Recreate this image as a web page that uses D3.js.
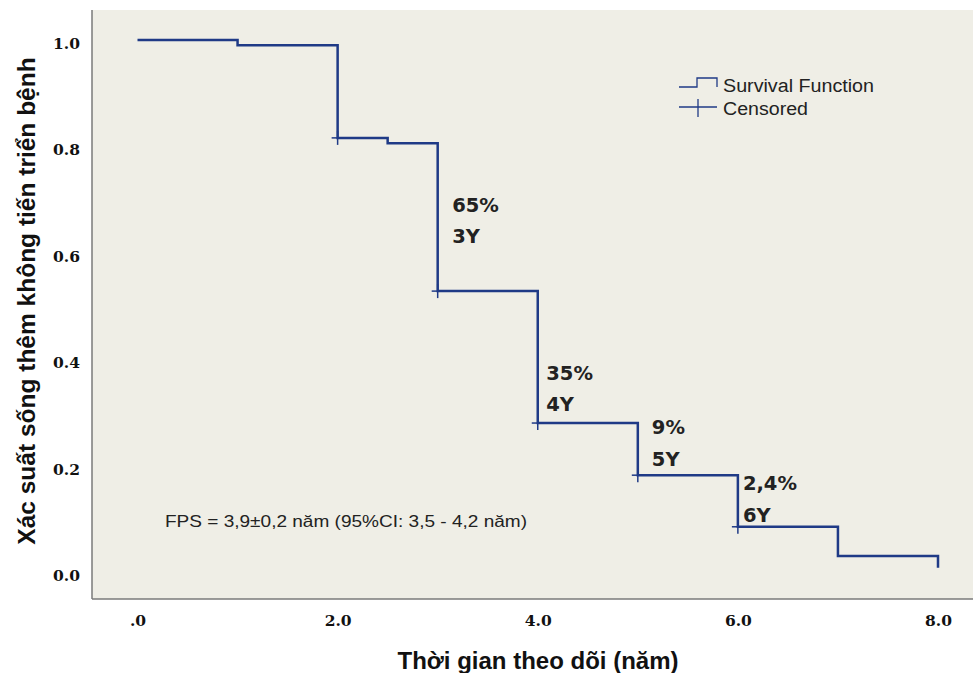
<!DOCTYPE html>
<html>
<head>
<meta charset="utf-8">
<script src="https://cdn.jsdelivr.net/npm/d3@7"></script>
<style>
  body { margin: 0; background: #fff; }
  svg { display: block; }
</style>
</head>
<body>
<div id="chart"></div>
<script>
// survival steps: value held from each time until the next one
var times = [0, 1.0, 2.0, 2.5, 3.0, 4.0, 5.0, 6.0, 7.0, 8.0]
var surv = [1.0, 0.99, 0.816, 0.806, 0.528, 0.28, 0.182, 0.085, 0.03, 0.008]
var censorTimes = [2.0, 3.0, 4.0, 5.0, 6.0]
var censorSurv = [0.816, 0.528, 0.28, 0.182, 0.085]
var notePct = ['65%', '35%', '9%', '2,4%']
var noteYear = ['3Y', '4Y', '5Y', '6Y']
var noteX = [3.145, 4.085, 5.14, 6.05]
var noteY = [0.677, 0.361, 0.259, 0.154]
var xTicks = [0, 2, 4, 6, 8]
var yTicks = [0, 0.2, 0.4, 0.6, 0.8, 1.0]

var width = 973, height = 673
var plot = { left: 92, top: 10, right: 973, bottom: 599 }
var blue = '#1f3a86'

var svg = d3.select('#chart').append('svg')
  .attr('width', width)
  .attr('height', height)

var x = d3.scaleLinear().domain([0, 8]).range([137.5, 938])
var y = d3.scaleLinear().domain([0, 1]).range([572, 40])

// plot background
svg.append('rect')
  .attr('x', plot.left).attr('y', plot.top)
  .attr('width', plot.right - plot.left)
  .attr('height', plot.bottom - plot.top)
  .attr('fill', '#efeee6')

svg.append('line')
  .attr('x1', plot.left).attr('x2', plot.left)
  .attr('y1', plot.top).attr('y2', plot.bottom)
  .attr('stroke', '#7a7a7a').attr('stroke-width', 1.5)
svg.append('line')
  .attr('x1', plot.left).attr('x2', plot.right)
  .attr('y1', plot.bottom).attr('y2', plot.bottom)
  .attr('stroke', '#7a7a7a').attr('stroke-width', 1.5)

// axes (labels only)
var xAxis = d3.axisBottom(x).tickValues(xTicks).tickSize(0)
  .tickFormat(function (d) { return d === 0 ? '.0' : d3.format('.1f')(d) })
var gx = svg.append('g').attr('transform', 'translate(0,' + 612 + ')').call(xAxis)
gx.select('.domain').remove()
gx.selectAll('text')
  .attr('font-family', 'DejaVu Serif').attr('font-weight', 'bold')
  .attr('font-size', 15.5).attr('fill', '#111')

var yAxis = d3.axisLeft(y).tickValues(yTicks).tickSize(0)
  .tickFormat(d3.format('.1f'))
var gy = svg.append('g').attr('transform', 'translate(' + 83 + ',0)').call(yAxis)
gy.select('.domain').remove()
gy.selectAll('text')
  .attr('dy', '0.55em')
  .attr('font-family', 'DejaVu Serif').attr('font-weight', 'bold')
  .attr('font-size', 15.5).attr('fill', '#111')

// survival step line
var pts = times.map(function (t, i) { return [t, surv[i]] })
var stepLine = d3.line()
  .x(function (d) { return x(d[0]) })
  .y(function (d) { return y(d[1]) })
  .curve(d3.curveStepAfter)
svg.append('path')
  .datum(pts)
  .attr('d', stepLine)
  .attr('fill', 'none')
  .attr('stroke', blue)
  .attr('stroke-width', 2.5)

// censored marks
var cens = svg.append('g')
censorTimes.forEach(function (t, i) {
  var cx = x(t), cy = y(censorSurv[i])
  cens.append('line')
    .attr('x1', cx).attr('x2', cx).attr('y1', cy - 7).attr('y2', cy + 7)
    .attr('stroke', blue).attr('stroke-width', 1.5)
  cens.append('line')
    .attr('x1', cx - 6).attr('x2', cx + 6).attr('y1', cy).attr('y2', cy)
    .attr('stroke', blue).attr('stroke-width', 1.5)
})

// annotations
notePct.forEach(function (p, i) {
  var tx = x(noteX[i])
  var ty = y(noteY[i])
  svg.append('text').attr('x', tx).attr('y', ty).text(p)
    .attr('font-family', 'DejaVu Sans').attr('font-weight', 'bold')
    .attr('font-size', 19.5).attr('fill', '#222')
  svg.append('text').attr('x', tx).attr('y', ty + 31.5).text(noteYear[i])
    .attr('font-family', 'DejaVu Sans').attr('font-weight', 'bold')
    .attr('font-size', 19.5).attr('fill', '#222')
})

svg.append('text')
  .attr('x', 165).attr('y', 527)
  .text('FPS = 3,9±0,2 năm (95%CI: 3,5 - 4,2 năm)')
  .attr('textLength', 362).attr('lengthAdjust', 'spacingAndGlyphs')
  .attr('font-family', 'Liberation Sans').attr('font-size', 16.5).attr('fill', '#222')

// legend
var lg = svg.append('g')
lg.append('path')
  .attr('d', 'M679,87 H697 V78 H717 V87')
  .attr('fill', 'none').attr('stroke', blue).attr('stroke-width', 1.3)
lg.append('line').attr('x1', 679).attr('x2', 717).attr('y1', 107).attr('y2', 107)
  .attr('stroke', blue).attr('stroke-width', 1.3)
lg.append('line').attr('x1', 698).attr('x2', 698).attr('y1', 99).attr('y2', 117)
  .attr('stroke', blue).attr('stroke-width', 1.3)
lg.append('text').attr('x', 723).attr('y', 92).text('Survival Function')
  .attr('textLength', 151).attr('lengthAdjust', 'spacingAndGlyphs')
  .attr('font-family', 'Liberation Sans').attr('font-size', 18).attr('fill', '#222')
lg.append('text').attr('x', 723).attr('y', 115).text('Censored')
  .attr('textLength', 85).attr('lengthAdjust', 'spacingAndGlyphs')
  .attr('font-family', 'Liberation Sans').attr('font-size', 18).attr('fill', '#222')

// axis titles
svg.append('text')
  .attr('x', 538).attr('y', 669)
  .attr('text-anchor', 'middle')
  .text('Thời gian theo dõi (năm)')
  .attr('font-family', 'Liberation Sans').attr('font-weight', 'bold')
  .attr('font-size', 24).attr('fill', '#111')

svg.append('text')
  .attr('transform', 'translate(35,' + 301 + ') rotate(-90)')
  .attr('text-anchor', 'middle')
  .text('Xác suất sống thêm không tiến triển bệnh')
  .attr('font-family', 'Liberation Sans').attr('font-weight', 'bold')
  .attr('font-size', 24.5).attr('fill', '#111')
</script>
</body>
</html>
